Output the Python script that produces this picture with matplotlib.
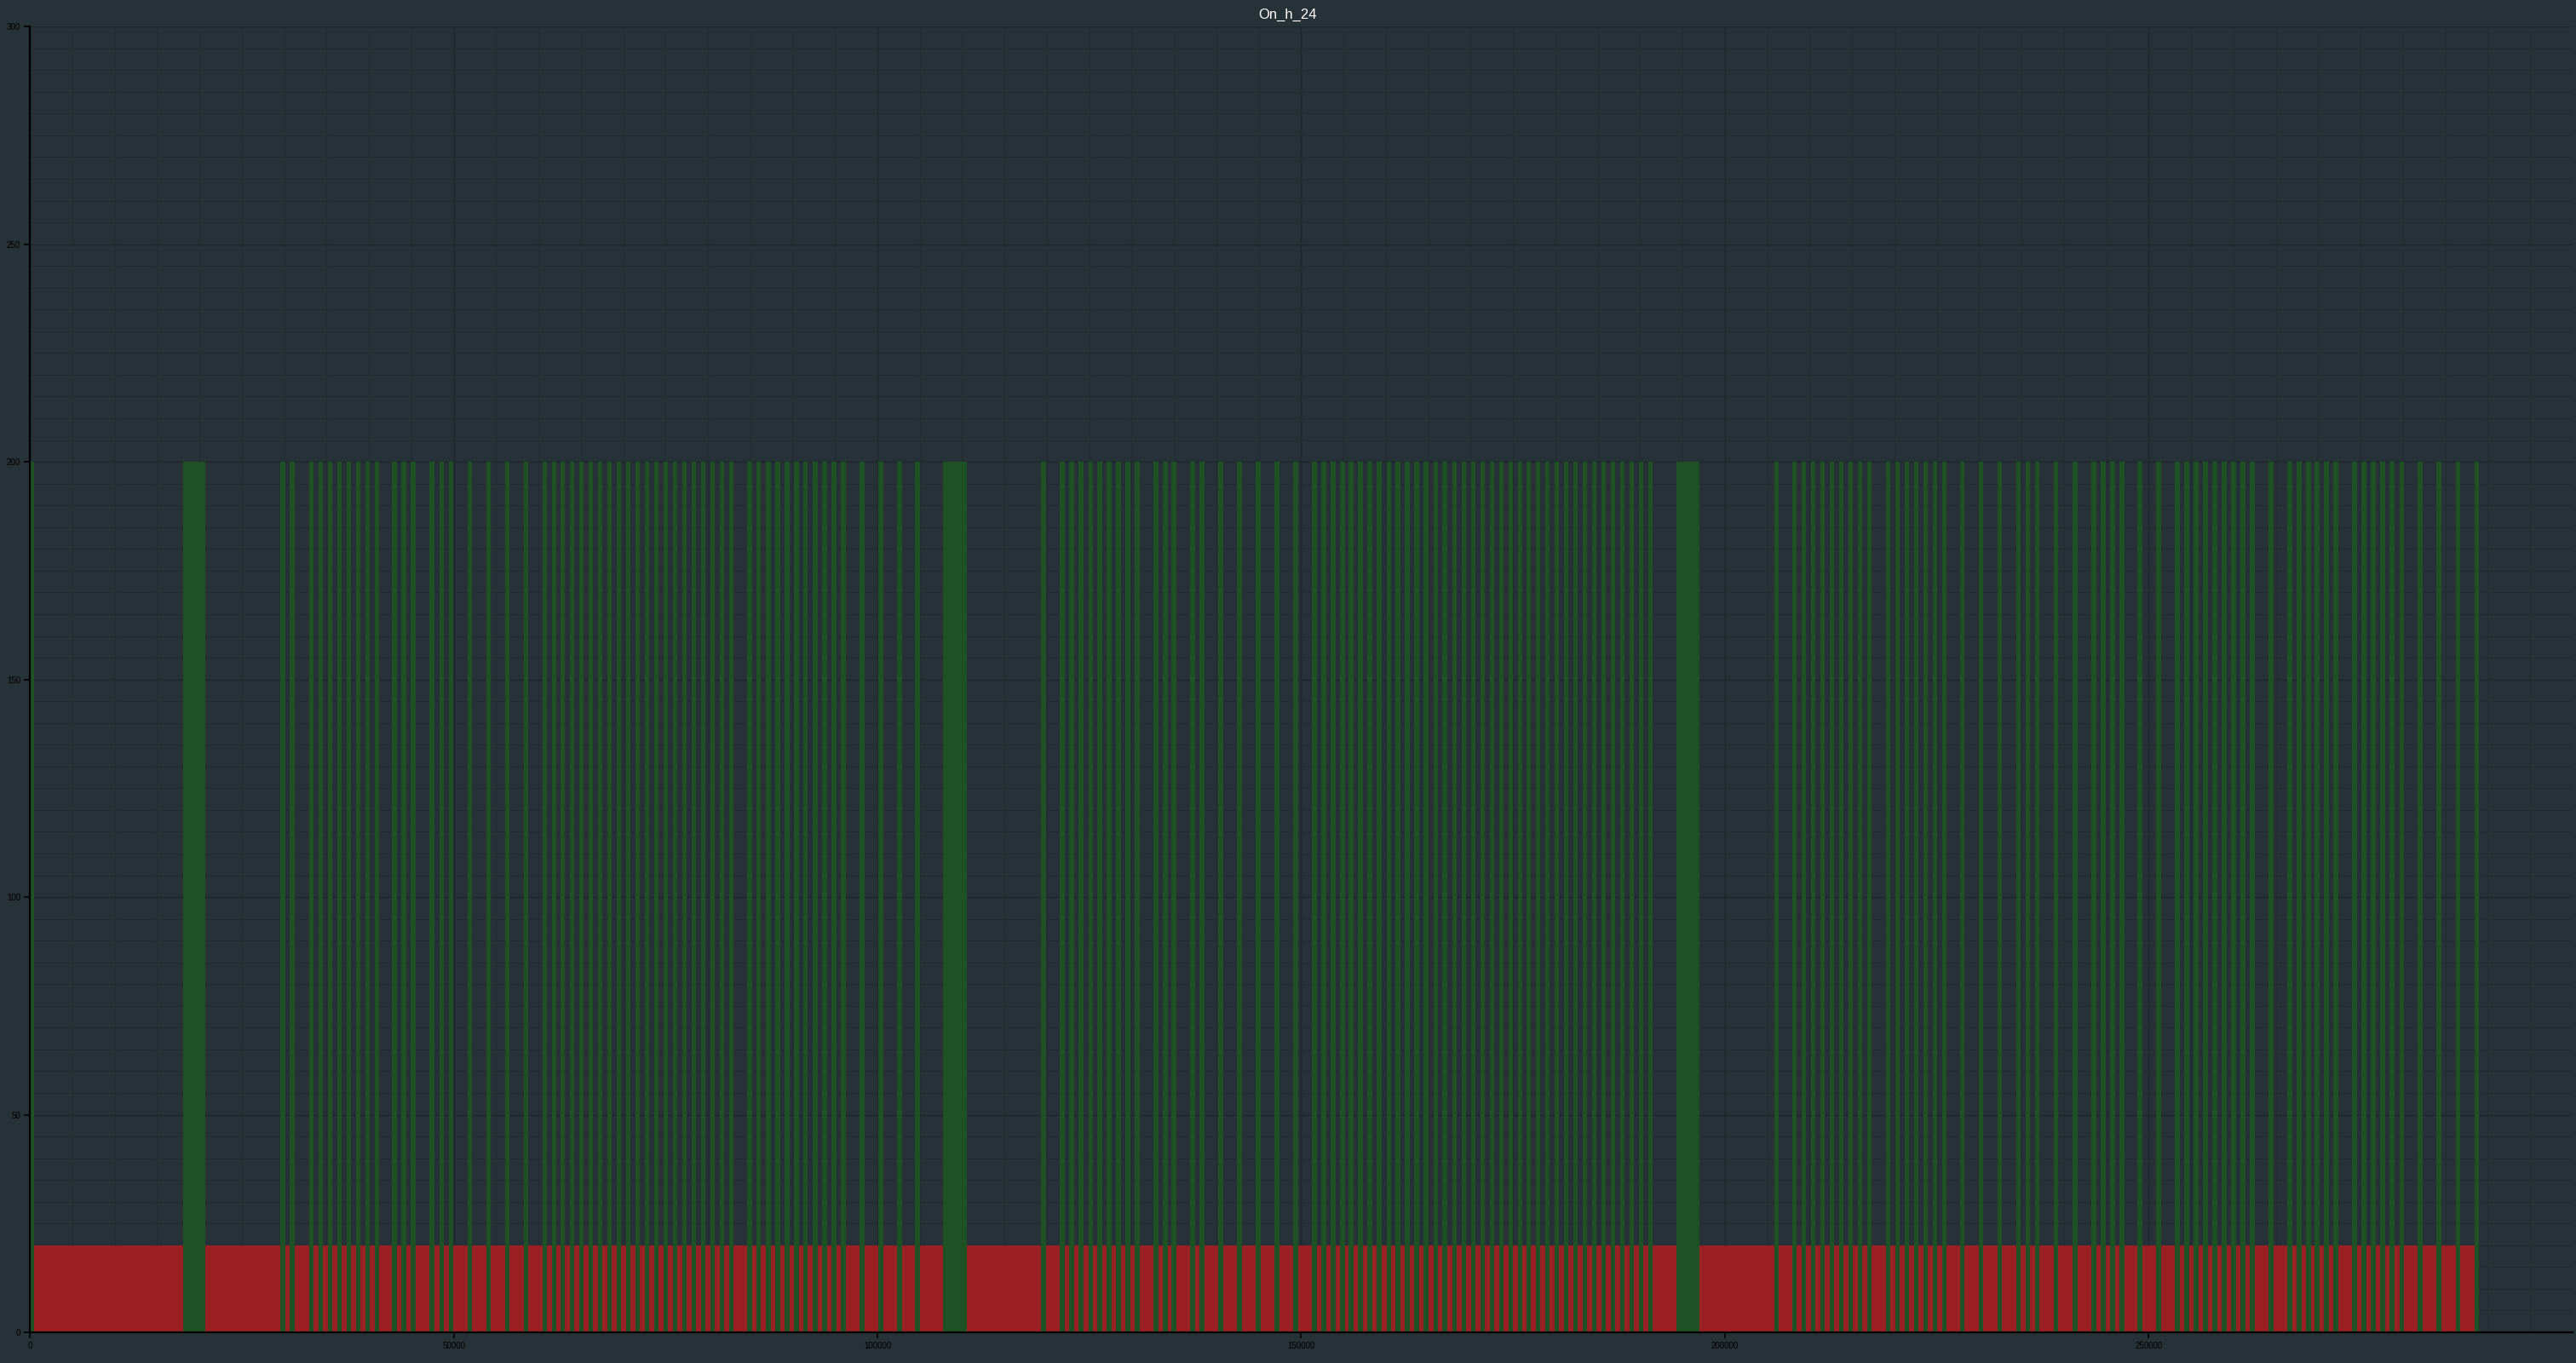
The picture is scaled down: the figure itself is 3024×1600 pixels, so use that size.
import matplotlib
matplotlib.use("Agg")
import matplotlib.pyplot as plt
from matplotlib.ticker import MultipleLocator

# valeurs : 200 = "on", 20 = "off"
val_on = 200
val_off = 20

# débuts des barres "on" étroites (unités de l'axe x)
thin_start = [
    0, 29580, 30680, 32930, 34030, 35140, 36250, 37350, 38460, 39570, 40670,
    42760, 43860, 44970, 47180, 48290, 49400, 51610, 53820, 56030, 58250,
    60460, 61570, 62570, 63680, 64790, 65890, 67000, 68110, 69210, 70320,
    71430, 72530, 73640, 74750, 75850, 76960, 78070, 79170, 80280, 81390,
    82490, 84640, 85740, 86850, 87960, 89060, 90170, 91270, 92380, 93490,
    94590, 95700, 97910, 100130, 102340, 104450,
    119340, 121560, 122660, 123770, 124880, 125950, 127060, 128160, 129270,
    130380, 132590, 133700, 134700, 136920, 138020, 140240, 142450, 144660,
    146880, 149090, 151300, 152410, 153520, 154620, 155630, 156740, 157840,
    158950, 160060, 161160, 162270, 163370, 164480, 165590, 166690, 167800,
    168910, 170010, 171120, 172230, 173330, 174440, 175550, 176550, 177660,
    178770, 179870, 180980, 182090, 183190, 184300, 185410, 186510, 187620,
    188730, 189830, 190940,
    205830, 207940, 209050, 210150, 211260, 212370, 213470, 214580, 215690,
    216790, 219010, 220110, 221220, 222330, 223430, 224540, 225650, 227760,
    229970, 232190, 234400, 235500, 236610, 238820, 241040, 243250, 244360,
    245460, 246570, 248680, 250900, 253110, 254220, 255320, 256430, 257540,
    258640, 259750, 260860, 261960, 264180, 266390, 267500, 268600, 269610,
    270720, 271820, 274030, 275140, 276250, 277350, 278460, 279570, 281780,
    283990, 286210, 288420,
]
thin_width = 540

# barres "on" larges
wide_start = [18040, 107770, 194260]
wide_width = [2690, 2790, 2720]

x_ticks = [0, 50000, 100000, 150000, 200000, 250000]
y_ticks = [0, 50, 100, 150, 200, 250, 300]

bg = "#263238"
col_on = "#1e5225"
col_off = "#9b2023"

# intervalles "on" triés, puis les trous entre eux = "off"
on_bars = sorted([(s, thin_width) for s in thin_start] + list(zip(wide_start, wide_width)))
off_start = []
off_width = []
for (s0, w0), (s1, w1) in zip(on_bars[:-1], on_bars[1:]):
    if s1 > s0 + w0:
        off_start.append(s0 + w0)
        off_width.append(s1 - (s0 + w0))

plt.rcParams["font.family"] = ["Liberation Sans", "DejaVu Sans"]

fig = plt.figure(figsize=(30.24, 16), dpi=100, facecolor=bg)
ax = fig.add_axes([0.0116, 0.0225, 0.987, 0.958])
ax.set_facecolor(bg)

ax.bar(off_start, [val_off] * len(off_start), width=off_width, align="edge",
       color=col_off, linewidth=0, zorder=2)
ax.bar([b[0] for b in on_bars], [val_on] * len(on_bars), width=[b[1] for b in on_bars],
       align="edge", color=col_on, linewidth=0, zorder=3)

ax.set_xlim(0, 300000)
ax.set_ylim(0, 300)
ax.set_xticks(x_ticks)
ax.set_xticklabels([str(v) for v in x_ticks])
ax.set_yticks(y_ticks)
ax.set_yticklabels([str(v) for v in y_ticks])
ax.xaxis.set_minor_locator(MultipleLocator(5000))
ax.yaxis.set_minor_locator(MultipleLocator(5))

ax.grid(True, which="major", color="#1e272c", linewidth=1.0, zorder=0)
ax.grid(True, which="minor", color="#222c31", linewidth=0.8, zorder=0)
ax.set_axisbelow(True)

for side in ["top", "right"]:
    ax.spines[side].set_visible(False)
for side in ["left", "bottom"]:
    ax.spines[side].set_color("black")
    ax.spines[side].set_linewidth(1.6)
    ax.spines[side].set_zorder(5)

ax.tick_params(which="major", colors="black", labelsize=7, length=5, width=1.2, pad=3)
ax.tick_params(which="minor", length=0)

fig.text(0.5, 0.989, "On_h_24", color="white", fontsize=12, ha="center", va="center")

fig.savefig("out.png", dpi=100, facecolor=bg)
